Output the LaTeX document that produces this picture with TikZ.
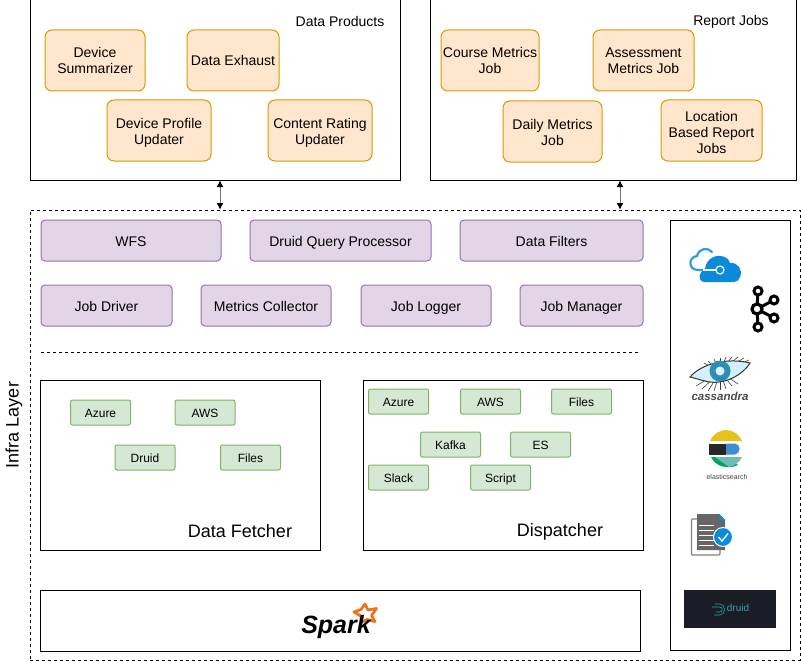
\documentclass[tikz,border=0pt]{standalone}
\usepackage{fontspec}
\setmainfont{Liberation Sans}
\usepackage{tikz}
\usetikzlibrary{arrows.meta,calc}

\definecolor{jobfill}{HTML}{FFE6CC}
\definecolor{jobline}{HTML}{D79B00}
\definecolor{infrafill}{HTML}{E1D5E7}
\definecolor{infraline}{HTML}{9673A6}
\definecolor{sinkfill}{HTML}{D5E8D4}
\definecolor{sinkline}{HTML}{82B366}
\definecolor{azureblue}{HTML}{0A8AD8}
\definecolor{eyeblue}{HTML}{2E8CB8}
\definecolor{sparkorange}{HTML}{E8761C}
\definecolor{druidback}{HTML}{1A1D26}
\definecolor{druidteal}{HTML}{2FA4A8}

\tikzset{
  panel/.style={draw=black,line width=1pt,minimum width=#1,inner sep=0pt},
  jobbox/.style={draw=jobline,line width=1pt,fill=jobfill,rounded corners=7pt,align=center,inner sep=0pt,minimum height=61pt,text height=27pt,text depth=0pt,font=\fontsize{14}{16}\selectfont},
  infrabox/.style={draw=infraline,line width=1pt,fill=infrafill,rounded corners=4pt,minimum height=41pt,inner sep=0pt,text height=11pt,text depth=0pt,font=\fontsize{14}{16}\selectfont},
  sinkbox/.style={draw=sinkline,line width=1pt,fill=sinkfill,rounded corners=2pt,minimum width=60pt,minimum height=25pt,inner sep=0pt,text height=10pt,text depth=0pt,font=\fontsize{12}{14}\selectfont},
  caption/.style={inner sep=0pt,font=\fontsize{14}{16}\selectfont},
  bigcaption/.style={inner sep=0pt,font=\fontsize{18}{20}\selectfont},
  bothways/.style={{Latex[black,length=6.5pt,width=7pt]}-{Latex[black,length=6.5pt,width=7pt]},line width=1pt,draw=black!55}
}

\begin{document}
\begin{tikzpicture}[x=1pt,y=-1pt]
    \useasboundingbox (0,0) rectangle (801,661);

    % upper panels
    \node[panel=370pt,minimum height=180pt] (products) at (215.5,90) {};
    \node[panel=366pt,minimum height=180pt] (reports) at (613,90) {};
    \node[caption] (productstitle) at (340,21.5) {Data Products};
    \node[caption] (reportstitle) at (731,21.5) {Report Jobs};

    \node[jobbox,minimum width=100pt] (summarizer) at (95,60.5) {Device\\Summarizer};
    \node[jobbox,minimum width=92pt,text height=11pt] (exhaust) at (233,60.5) {Data Exhaust};
    \node[jobbox,minimum width=104pt] (profile) at (159,130.5) {Device Profile\\Updater};
    \node[jobbox,minimum width=104pt] (rating) at (320,130.5) {Content Rating\\Updater};

    \node[jobbox,minimum width=98pt] (course) at (490,60.5) {Course Metrics\\Job};
    \node[jobbox,minimum width=101pt] (assessment) at (643.5,60.5) {Assessment\\Metrics Job};
    \node[jobbox,minimum width=99pt] (daily) at (552.5,131.5) {Daily Metrics\\Job};
    \node[jobbox,minimum width=101pt,text height=45pt] (location) at (711.5,130.5) {Location\\Based Report\\Jobs};

    % infra layer
    \node[draw=black,dashed,line width=0.8pt,minimum width=770pt,minimum height=450pt,inner sep=0pt] (infra) at (415,435) {};
    \node[bigcaption,rotate=90] (infratitle) at (14,425) {Infra Layer};

    \draw[bothways] ([xshift=4.5pt]products.south) -- ([xshift=4.5pt]products.south |- infra.north);
    \draw[bothways] ([xshift=7pt]reports.south) -- ([xshift=7pt]reports.south |- infra.north);

    \node[infrabox,minimum width=180pt] (wfs) at (131,240.5) {WFS};
    \node[infrabox,minimum width=181pt] (query) at (340.5,240.5) {Druid Query Processor};
    \node[infrabox,minimum width=183pt] (filters) at (551.5,240.5) {Data Filters};
    \node[infrabox,minimum width=131pt] (driver) at (106.5,305.5) {Job Driver};
    \node[infrabox,minimum width=130pt] (collector) at (266,305.5) {Metrics Collector};
    \node[infrabox,minimum width=130pt] (logger) at (426,305.5) {Job Logger};
    \node[infrabox,minimum width=123pt] (manager) at (581.5,305.5) {Job Manager};

    \coordinate (ruleleft) at (41,352);
    \coordinate (ruleright) at (640,352);
    \draw[dashed,line width=0.8pt] (ruleleft) -- (ruleright);

    % fetcher and dispatcher
    \node[panel=280pt,minimum height=170pt] (fetcher) at (180.5,465) {};
    \node[panel=280pt,minimum height=170pt] (dispatcher) at (503.5,465) {};
    \node[bigcaption] (fetchertitle) at (240,531.5) {Data Fetcher};
    \node[bigcaption] (dispatchertitle) at (560,531.5) {Dispatcher};

    \foreach \name/\txt/\px/\py in {fazure/Azure/100.5/412.5, faws/AWS/205/412.5, fdruid/Druid/145/457.5, ffiles/Files/250.5/457.5,
      dazure/Azure/398.5/401.5, daws/AWS/490.5/401.5, dfiles/Files/581.5/401.5, dkafka/Kafka/450.5/444.5,
      des/ES/540.5/444.5, dslack/Slack/398.5/477.5, dscript/Script/500.5/477.5} {
      \node[sinkbox] (\name) at (\px,\py) {\txt};
    }

    % spark
    \node[panel=600pt,minimum height=61pt] (sparkbox) at (340,620.5) {};
    \draw[sparkorange,line width=2.8pt,line join=round]
      (365,604) -- (368,610) -- (376.5,608.5) -- (371.5,615.5) -- (375,621.5) -- (367,619.5) -- (361,622.5) -- (361,616) -- (354,612) -- (361,609.5) -- cycle;
    \node[inner sep=0pt,font=\fontsize{25}{28}\bfseries\itshape\selectfont] (spark) at (336,627) {Spark};

    % logos panel
    \node[panel=120pt,minimum height=430pt] (logos) at (730.5,435.5) {};

    % azure
    \draw[azureblue!85,line width=2.2pt,line cap=round]
      (720,270) -- (698,270) .. controls (688,270) and (688,257) .. (697,256) .. controls (699,248) and (708,247) .. (712,252);
    \fill[azureblue] (704,282) .. controls (697,281) and (699,270) .. (705,270) .. controls (705,262) and (712,255) .. (720,256)
      .. controls (725,256) and (729,259) .. (730,263) .. controls (738,262) and (743,270) .. (740,277) .. controls (739,280) and (737,282) .. (734,282) -- cycle;
    \draw[white,line width=1.2pt] (703,270) -- (717,270);
    \node[circle,draw=white,fill=azureblue,line width=1.2pt,minimum size=8pt,inner sep=0pt] (azurehub) at (720,270) {};

    % kafka
    \coordinate (khub) at (757,309);
    \foreach \kx/\ky in {758/291, 758/327, 774/300, 774/318} {
      \draw[black,line width=3pt] (khub) -- (\kx,\ky);
      \draw[black,fill=white,line width=3pt] (\kx,\ky) circle (4pt);
    }
    \draw[black,fill=white,line width=3.2pt] (khub) circle (5pt);

    % cassandra
    \foreach \lx/\ly in {704/363, 708/361, 714/359, 720/358, 726/357, 732/357, 738/357, 744/358, 749/360, 696/386, 702/389, 708/391, 714/391, 720/390, 726/389, 732/386, 738/384} {
      \draw[black!75,line width=0.6pt] (720,372) -- (\lx,\ly);
    }
    \fill[cyan!18,draw=black!80,line width=1pt] (690,377) .. controls (703,362) and (730,358) .. (750,363) .. controls (742,376) and (722,386) .. (705,381) .. controls (700,380) and (695,378) .. (690,377) -- cycle;
    \fill[eyeblue] (720,371) circle (10.5pt);
    \fill[white!85!cyan] (720,371) circle (4.5pt);
    \node[inner sep=0pt,text=black!70,font=\fontsize{11.5}{14}\bfseries\itshape\selectfont] (cassandra) at (720,396) {cassandra};

    % elasticsearch
    \fill[yellow!70!orange!90!black] (710,441) .. controls (713,434) and (720,430) .. (726,430) .. controls (733,430) and (739,434) .. (742,441) -- cycle;
    \fill[black!85] (709,443.5) rectangle (726,454.5);
    \fill[cyan!60!blue!80] (726,443.5) -- (735,443.5) .. controls (741,444) and (741,454) .. (735,454.5) -- (726,454.5) -- cycle;
    \fill[teal!70!green] (711,457) -- (725,457) -- (738,465) .. controls (730,469) and (716,468) .. (711,457) -- cycle;
    \fill[teal!55!white] (715,457) -- (742,457) .. controls (739,463) and (734,466) .. (729,467) -- cycle;
    \node[inner sep=0pt,text=black!75,font=\fontsize{7}{8}\selectfont] (elastic) at (727,476.5) {elasticsearch};

    % file check
    \draw[black!50,line width=1.2pt,rounded corners=1pt] (698,519) -- (691.5,519) -- (691.5,555) -- (720,555) -- (720,550);
    \fill[black!60] (697,514) -- (719,514) -- (725,520) -- (725,550) -- (697,550) -- cycle;
    \fill[azureblue] (719,514) -- (725,520) -- (719,520) -- cycle;
    \foreach \ly in {525,530,535,540,545} {
      \draw[white,line width=1pt] (699,\ly) -- (714,\ly);
    }
    \fill[azureblue,draw=white,line width=1pt] (723,537) circle (9.5pt);
    \draw[white,line width=1.4pt] (718.5,537) -- (722,541) -- (728,533.5);

    % druid
    \node[fill=druidback,minimum width=92pt,minimum height=38pt,inner sep=0pt] (druidlogo) at (730,609) {};
    \draw[druidteal,line width=0.6pt] (715,604) -- (720,604) .. controls (726,604) and (726,615) .. (720,615) -- (714,615);
    \draw[druidteal,line width=0.6pt] (712,607) -- (720,607) .. controls (723,607) and (723,612) .. (720,612) -- (716,612);
    \node[inner sep=0pt,text=druidteal,font=\fontsize{10}{12}\selectfont] (druidtext) at (738,608) {druid};

  \end{tikzpicture}
\end{document}
